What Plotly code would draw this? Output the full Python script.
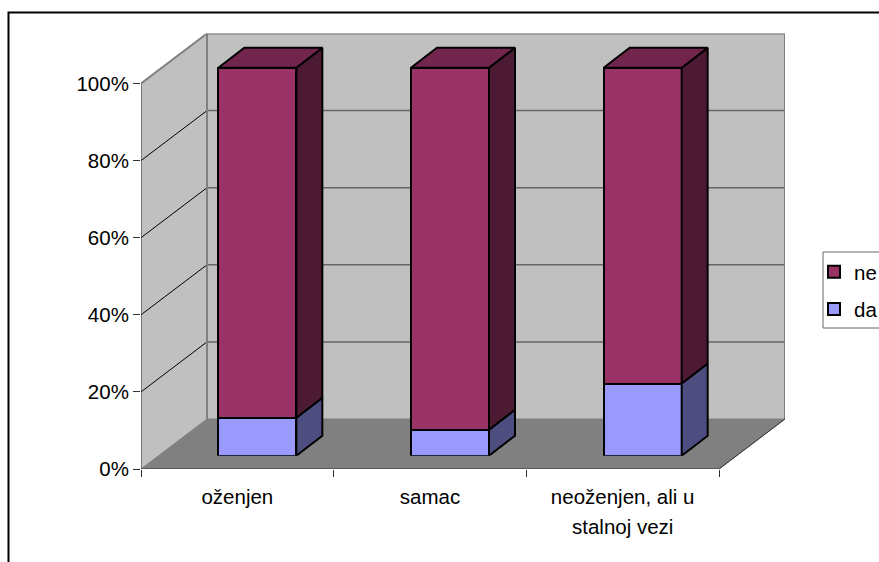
import plotly.graph_objects as go

W, H = 879, 562

# --- data -------------------------------------------------------------
categories = ["oženjen", "samac", "neoženjen, ali u"]
second_line = "stalnoj vezi"
da = [9.8, 6.7, 18.6]
ne = [90.2, 93.3, 81.4]
y_ticks = [0, 20, 40, 60, 80, 100]
y_labels = ["0%", "20%", "40%", "60%", "80%", "100%"]

# --- styling ----------------------------------------------------------
FONT = "Liberation Sans, Arial, sans-serif"
FS = 20.5
C_NE, C_NE_SIDE, C_NE_TOP = "#993366", "#4D1A33", "#73264D"
C_DA, C_DA_SIDE = "#9999FF", "#4D4D80"
WALL, FLOOR, EDGE = "#C0C0C0", "#808080", "#808080"

# pixel geometry of the front plane of the chart box
X0, X3 = 141.0, 719.0
Y0, Y100 = 469.0, 83.5
XR, YT = 785.0, 33.5
ux = (X3 - X0) / 3
uy = (Y0 - Y100) / 100
box_dx = (XR - X3) / ux
box_dy = (Y100 - YT) / uy
x_max = (XR - X0) / ux
y_max = (Y0 - YT) / uy

# pixel geometry of the plane holding the front of the columns
BX0 = X0 + 20.0
BY0 = 455.7
buy = 3.88
bar_dx = 26.0 / ux
bar_dy = 20.0 / buy
bar_w = 78.0 / ux
y2_max = (BY0 - 20.0) / buy
positions = [i + 0.5 for i in range(len(categories))]

fig = go.Figure()


def poly(xs, ys, fill, line, lw=1, axes=("x", "y")):
    fig.add_trace(go.Scatter(
        x=list(xs) + [xs[0]], y=list(ys) + [ys[0]], mode="lines", fill="toself",
        fillcolor=fill, line=dict(color=line, width=lw), showlegend=False,
        hoverinfo="skip", xaxis=axes[0], yaxis=axes[1]))


def seg(xs, ys, color, lw=1):
    fig.add_trace(go.Scatter(
        x=xs, y=ys, mode="lines", line=dict(color=color, width=lw),
        showlegend=False, hoverinfo="skip", xaxis="x", yaxis="y"))


# chart box
poly([0, box_dx, box_dx, 0], [0, box_dy, 100 + box_dy, 100], WALL, WALL, 1)
poly([box_dx, 3 + box_dx, 3 + box_dx, box_dx],
     [box_dy, box_dy, 100 + box_dy, 100 + box_dy], WALL, WALL, 1)
poly([0, 3, 3 + box_dx, box_dx], [0, 0, box_dy, box_dy], FLOOR, FLOOR, 1)
for v in y_ticks[1:-1]:
    seg([0, box_dx], [v, v + box_dy], "#000000", 1)
    seg([box_dx, 3 + box_dx], [v + box_dy, v + box_dy], "#666666", 1.5)
seg([0, box_dx, 3 + box_dx, 3 + box_dx, ], [100, 100 + box_dy, 100 + box_dy, box_dy], EDGE, 2)
seg([box_dx, box_dx], [box_dy, 100 + box_dy], EDGE, 2)
seg([0, 0, 3, 3 + box_dx], [100, 0, 0, box_dy], "#333333", 1)

# column sides and tops, computed from the values
A2 = ("x2", "y2")
for p, d, n in zip(positions, da, ne):
    r = p + bar_w / 2
    l = p - bar_w / 2
    t = d + n
    poly([r, r + bar_dx, r + bar_dx, r], [0, bar_dy, d + bar_dy, d], C_DA_SIDE, "#000000", 2, A2)
    poly([r, r + bar_dx, r + bar_dx, r], [d, d + bar_dy, t + bar_dy, t], C_NE_SIDE, "#000000", 2, A2)
    poly([l, r, r + bar_dx, l + bar_dx], [t, t, t + bar_dy, t + bar_dy], C_NE_TOP, "#000000", 2, A2)

# column fronts
fig.add_trace(go.Bar(x=positions, y=da, width=bar_w, name="da", legendgroup="da", legendrank=2,
                     marker=dict(color=C_DA, line=dict(color="#000000", width=2)),
                     xaxis="x2", yaxis="y2"))
fig.add_trace(go.Bar(x=positions, y=ne, width=bar_w, name="ne", legendgroup="ne", legendrank=1,
                     marker=dict(color=C_NE, line=dict(color="#000000", width=2)),
                     xaxis="x2", yaxis="y2"))

fig.update_layout(
    width=W, height=H, autosize=False,
    margin=dict(l=0, r=0, t=0, b=0, pad=0, autoexpand=False),
    paper_bgcolor="#FFFFFF", plot_bgcolor="rgba(0,0,0,0)",
    barmode="stack", bargap=0,
    font=dict(family=FONT, size=FS, color="#000000"),
    xaxis=dict(domain=[X0 / W, XR / W], range=[0, x_max], showgrid=False, zeroline=False,
               showline=False, tickmode="array", tickvals=positions, ticktext=categories,
               ticks="", ticklabelstandoff=13, anchor="y",
               tickfont=dict(family=FONT, size=FS),
               minor=dict(tickmode="array", tickvals=[0, 1, 2, 3], ticks="outside",
                          ticklen=7, tickwidth=1, tickcolor="#333333", showgrid=False)),
    yaxis=dict(domain=[(H - Y0) / H, (H - YT) / H], range=[0, y_max], showgrid=False,
               zeroline=False, showline=False, tickmode="array", tickvals=y_ticks,
               ticktext=y_labels, ticks="outside", ticklen=7, tickwidth=1,
               tickcolor="#333333", anchor="x", tickfont=dict(family=FONT, size=FS)),
    xaxis2=dict(domain=[BX0 / W, (BX0 + x_max * ux) / W], range=[0, x_max], visible=False,
                anchor="y2", overlaying=None),
    yaxis2=dict(domain=[(H - BY0) / H, (H - 20.0) / H], range=[0, y2_max], visible=False,
                anchor="x2"),
    legend=dict(x=814 / W, y=(H - 252) / H, xanchor="left", yanchor="top",
                borderwidth=0, bgcolor="rgba(0,0,0,0)",
                traceorder="grouped", tracegroupgap=7.5,
                font=dict(family=FONT, size=FS), itemwidth=30),
    annotations=[dict(text=second_line, xref="x", yref="paper", x=positions[2],
                      y=(H - 526) / H, xanchor="center", yanchor="middle", showarrow=False,
                      font=dict(family=FONT, size=FS, color="#000000"))],
    shapes=[dict(type="rect", xref="paper", yref="paper", x0=8.5 / W, x1=1.2,
                 y0=-0.2, y1=(H - 12.5) / H, line=dict(color="#000000", width=2),
                 fillcolor="rgba(0,0,0,0)", layer="above"),
            dict(type="rect", xref="paper", yref="paper", x0=823 / W, x1=1.2,
                 y0=(H - 328) / H, y1=(H - 252) / H, line=dict(color="#666666", width=1),
                 fillcolor="#FFFFFF", layer="above")],
)

fig.write_html("out.html", post_script="document.body.style.margin='0';",
               config={"displayModeBar": False})
